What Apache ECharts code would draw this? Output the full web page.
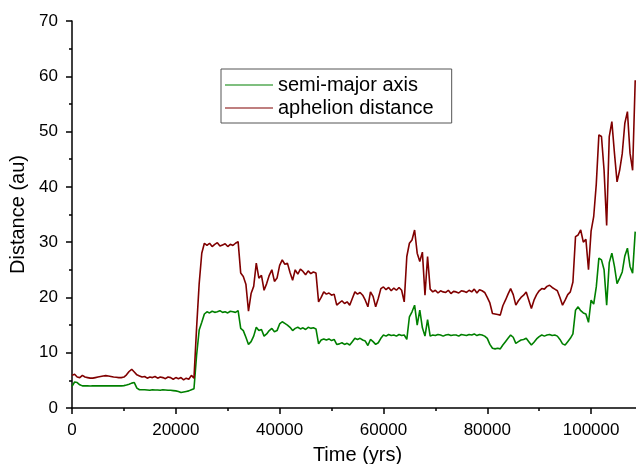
<!DOCTYPE html>
<html>
<head>
<meta charset="utf-8">
<script src="https://cdn.jsdelivr.net/npm/echarts@6/dist/echarts.min.js"></script>
<style>html,body{margin:0;padding:0;background:#fff}#c{width:636px;height:464px}</style>
</head>
<body>
<div id="c"></div>
<script>
const times = [0,500,1000,1500,2000,2500,3000,3500,4000,4500,5000,5500,6000,6500,7000,7500,8000,8500,9000,9500,
10000,10500,11000,11500,12000,12500,13000,13500,14000,14500,15000,15500,16000,16500,17000,17500,18000,18500,19000,19500,
20000,20500,21000,21500,22000,22500,23000,23500,24000,24500,25000,25500,26000,26500,27000,27500,28000,28500,29000,29500,
30000,30500,31000,31500,32000,32500,33000,33500,34000,34500,35000,35500,36000,36500,37000,37500,38000,38500,39000,39500,
40000,40500,41000,41500,42000,42500,43000,43500,44000,44500,45000,45500,46000,46500,47000,47500,48000,48500,49000,49500,
50000,50500,51000,51500,52000,52500,53000,53500,54000,54500,55000,55500,56000,56500,57000,57500,58000,58500,59000,59500,
60000,60500,61000,61500,62000,62500,63000,63500,64000,64500,65000,65500,66000,66500,67000,67500,68000,68500,69000,69500,
70000,70500,71000,71500,72000,72500,73000,73500,74000,74500,75000,75500,76000,76500,77000,77500,78000,78500,79000,79500,
80000,80500,81000,81500,82000,82500,83000,83500,84000,84500,85000,85500,86000,86500,87000,87500,88000,88500,89000,89500,
90000,90500,91000,91500,92000,92500,93000,93500,94000,94500,95000,95500,96000,96500,97000,97500,98000,98500,99000,99500,
100000,100500,101000,101500,102000,102500,103000,103500,104000,104500,105000,105500,106000,106500,107000,107500,108000,108500];

const semiMajor = [3.9,4.7,4.6,4.2,4.0,
4.0,4.0,3.98,4.0,4.0,4.0,4.02,4.0,4.0,4.0,4.0,4.0,4.02,4.0,4.0,4.05,
4.15,4.3,4.5,4.6,3.6,3.3,3.3,
3.3,3.25,3.2,3.3,3.25,3.25,3.2,3.3,3.25,3.2,3.2,3.15,3.1,
3.0,2.8,2.9,3.0,3.1,3.3,3.5,
9.5,14.1,15.5,17.0,
17.4,17.2,17.5,17.3,17.4,17.6,17.3,17.4,17.2,17.5,17.4,17.3,17.6,
14.4,14.0,12.8,11.5,12.0,13.0,14.6,14.0,14.2,13.0,
13.4,14.0,14.4,13.8,14.0,15.2,15.6,15.3,15.0,14.6,
14.0,14.4,14.6,14.3,14.5,14.2,14.6,14.4,14.5,14.3,
11.6,12.3,12.5,12.3,12.5,12.2,12.4,11.5,11.6,11.8,
11.5,11.7,11.4,12.0,12.6,12.4,12.6,12.3,12.1,11.3,
12.4,12.0,11.5,11.8,12.6,13.2,13.0,13.3,13.1,13.2,
13.0,13.3,13.1,13.2,12.4,16.5,17.4,18.6,15.0,17.7,
14.5,13.0,16.0,13.0,
13.2,13.1,13.3,13.2,13.0,13.2,13.3,13.1,13.2,13.2,13.0,13.3,13.2,13.1,13.3,13.2,13.4,13.1,13.3,13.2,13.0,
12.6,11.5,10.8,10.7,10.8,10.7,11.4,12.0,12.6,13.2,
12.8,11.7,12.0,12.3,12.4,12.6,12.0,11.4,11.9,12.5,
12.9,13.2,13.0,13.2,13.3,13.1,13.2,13.0,12.4,11.6,
11.4,12.0,12.6,13.4,17.7,18.3,17.6,17.2,17.0,15.5,
19.5,18.8,21.9,27.1,26.8,25.0,18.6,26.3,28.0,25.6,
22.5,23.5,24.6,27.5,28.9,25.6,24.4,31.9];

const aphelion = [5.9,6.1,5.6,5.5,5.9,
5.6,5.5,5.4,5.4,5.5,5.6,5.7,5.8,5.85,5.8,5.7,5.6,5.55,5.5,5.5,5.6,
6.0,6.6,7.0,6.5,6.0,5.8,5.6,
5.7,5.4,5.6,5.5,5.7,5.4,5.6,5.5,5.3,5.6,5.5,5.2,5.5,
5.3,5.5,5.1,5.4,5.2,5.9,5.4,
14.5,22.5,28.0,29.8,
29.4,29.8,29.2,29.6,29.9,29.3,29.5,29.7,29.2,29.6,29.4,29.8,30.1,
24.4,23.8,22.4,17.5,20.7,22.0,26.2,23.5,24.0,21.3,
22.5,24.0,25.0,22.9,23.5,25.8,26.8,26.0,26.2,24.5,
23.1,25.0,24.2,25.1,24.7,24.1,24.8,24.3,24.6,24.4,
19.2,20.0,21.0,20.6,20.8,20.4,20.6,18.6,19.0,19.4,
18.9,19.2,18.6,19.8,21.0,20.6,20.9,20.4,19.5,18.3,
21.0,20.2,18.3,19.8,21.6,21.9,21.4,21.8,21.2,21.7,
21.3,21.8,21.3,19.2,27.4,29.8,30.4,32.2,28.0,26.5,
28.2,20.4,27.4,21.5,
21.0,21.3,20.8,21.2,21.0,20.9,21.3,20.7,21.1,21.0,20.8,21.2,21.1,20.9,21.3,21.0,21.5,20.8,21.4,21.2,20.9,
20.0,19.0,17.1,17.0,16.9,16.8,18.5,19.5,20.6,21.6,
20.5,18.6,19.4,20.0,20.4,21.0,19.5,18.0,19.5,20.5,
21.2,21.6,21.5,22.0,22.2,21.8,21.5,21.2,20.0,18.6,
19.5,20.5,21.0,22.8,31.0,31.3,32.2,30.0,30.5,25.0,
32.0,34.6,40.5,49.4,49.1,43.0,33.0,49.1,51.8,46.1,
40.9,43.0,46.0,51.5,53.6,46.1,43.0,59.3];

const seriesNames = ['semi-major axis', 'aphelion distance'];
const seriesColors = ['#008000', '#800000'];

const pair = (vals) => times.map((t, i) => [t, vals[i]]);
const font = 'Liberation Sans, Arial, sans-serif';

const chart = echarts.init(document.getElementById('c'), null, {renderer: 'canvas'});
chart.setOption({
  animation: false,
  backgroundColor: '#fff',
  grid: {left: 72, top: 21, bottom: 56, right: -7, containLabel: false, outerBoundsMode: 'none'},
  legend: {
    orient: 'vertical',
    left: 221, top: 69,
    padding: [6, 18, 5, 4],
    itemGap: 3,
    itemWidth: 48, itemHeight: 1,
    icon: 'rect',
    borderColor: '#555', borderWidth: 1, borderRadius: 0,
    textStyle: {fontFamily: font, fontSize: 20, color: '#000', lineHeight: 20},
    data: seriesNames
  },
  xAxis: {
    type: 'value', min: 0, max: 110000, interval: 20000,
    name: 'Time (yrs)', nameLocation: 'middle', nameGap: 37,
    nameTextStyle: {fontFamily: font, fontSize: 20, color: '#000'},
    axisLine: {show: true, onZero: false, lineStyle: {color: '#000', width: 1.5}},
    axisTick: {show: true, length: 6, lineStyle: {color: '#000', width: 1.5}},
    minorTick: {show: true, splitNumber: 2, length: 3, lineStyle: {color: '#000', width: 1.5}},
    axisLabel: {fontFamily: font, fontSize: 17, color: '#000', margin: 14, showMaxLabel: false,
                formatter: (v) => String(v)},
    splitLine: {show: false}
  },
  yAxis: {
    type: 'value', min: 0, max: 70, interval: 10,
    name: 'Distance (au)', nameLocation: 'middle', nameGap: 37,
    nameTextStyle: {fontFamily: font, fontSize: 20, color: '#000'},
    axisLine: {show: true, lineStyle: {color: '#000', width: 1.5}},
    axisTick: {show: true, length: 6, lineStyle: {color: '#000', width: 1.5}},
    minorTick: {show: true, splitNumber: 2, length: 3, lineStyle: {color: '#000', width: 1.5}},
    axisLabel: {fontFamily: font, fontSize: 17, color: '#000', margin: 14},
    splitLine: {show: false}
  },
  series: [
    {name: seriesNames[0], type: 'line', data: pair(semiMajor), showSymbol: false, symbol: 'none',
     color: seriesColors[0], lineStyle: {color: seriesColors[0], width: 1.6}},
    {name: seriesNames[1], type: 'line', data: pair(aphelion), showSymbol: false, symbol: 'none',
     color: seriesColors[1], lineStyle: {color: seriesColors[1], width: 1.6}}
  ]
});
</script>
</body>
</html>
